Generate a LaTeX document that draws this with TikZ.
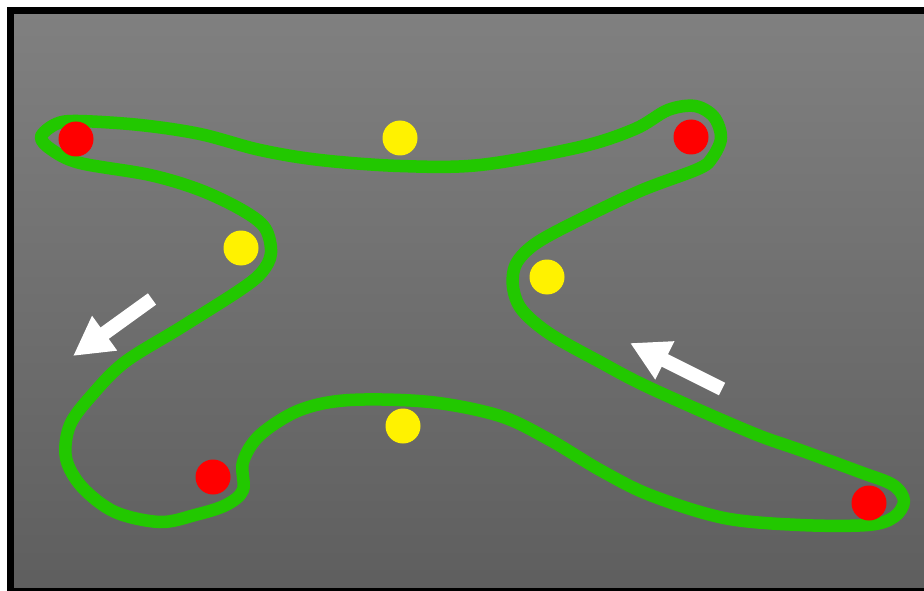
\documentclass[tikz,border=0pt]{standalone}
\usepackage{tikz}
\usepackage{xcolor}
\usetikzlibrary{arrows.meta}
\definecolor{trackgreen}{RGB}{34,200,0}
\definecolor{bgtop}{RGB}{128,128,128}
\definecolor{bgbottom}{RGB}{94,94,94}
\newcommand{\DotSize}{35pt}
\newcommand{\TrackWidth}{12.5pt}

\begin{document}
\begin{tikzpicture}[x=1pt,y=-1pt,
  reddot/.style={circle,fill=red,minimum size=\DotSize,inner sep=0pt},
  yellowdot/.style={circle,fill=yellow,minimum size=\DotSize,inner sep=0pt},
  flowarrow/.style={white,line width=14pt,-{Triangle[length=39pt,width=40pt]}}]
\clip (0,0) rectangle (924,591);
% Background with frame
\shade[top color=bgtop,bottom color=bgbottom] (10,10) rectangle (940,595);
\draw[black,line width=7pt] (10.5,10.5) rectangle (940,591.5);
% Track
\draw[trackgreen,line width=\TrackWidth,line join=round]
  plot[smooth cycle,tension=0.55] coordinates {
  (41,137) (56,124) (78,121) (140,125) (200,134) (260,150) (320,160)
  (400,166) (480,165) (580,147) (635,129) (668,110) (695,106) (714,117)
  (721,138) (712,158) (698,169) (640,191) (575,222) (535,244)
  (516,264) (513,287) (522,310) (550,334) (600,362) (650,388) (750,432)
  (800,450) (860,472) (893,485) (904,501) (894,517) (868,525) (800,525)
  (724,518) (650,495) (600,470) (550,440) (500,416) (430,402) (350,400)
  (300,410) (260,435) (243,462) (243,490) (226,505) (195,515) (160,522)
  (115,512) (82,487) (66,458) (70,425) (92,395) (125,362)
  (180,328) (240,290) (262,272) (271,253) (265,228) (242,210)
  (200,190) (150,175) (80,163) (52,150)};
% Red dots
\node[reddot] (r1) at (76,139) {};
\node[reddot] (r2) at (691,137) {};
\node[reddot] (r3) at (213,477) {};
\node[reddot] (r4) at (869,503) {};
% Yellow dots
\node[yellowdot] (y1) at (400,138) {};
\node[yellowdot] (y2) at (241,248) {};
\node[yellowdot] (y3) at (547,277) {};
\node[yellowdot] (y4) at (403,426) {};
% Direction arrows
\coordinate (la) at (152,299);
\coordinate (lb) at (73,356);
\coordinate (ra) at (722,389);
\coordinate (rb) at (630,343);
\draw[flowarrow] (la) -- (lb);
\draw[flowarrow] (ra) -- (rb);
\end{tikzpicture}
\end{document}
